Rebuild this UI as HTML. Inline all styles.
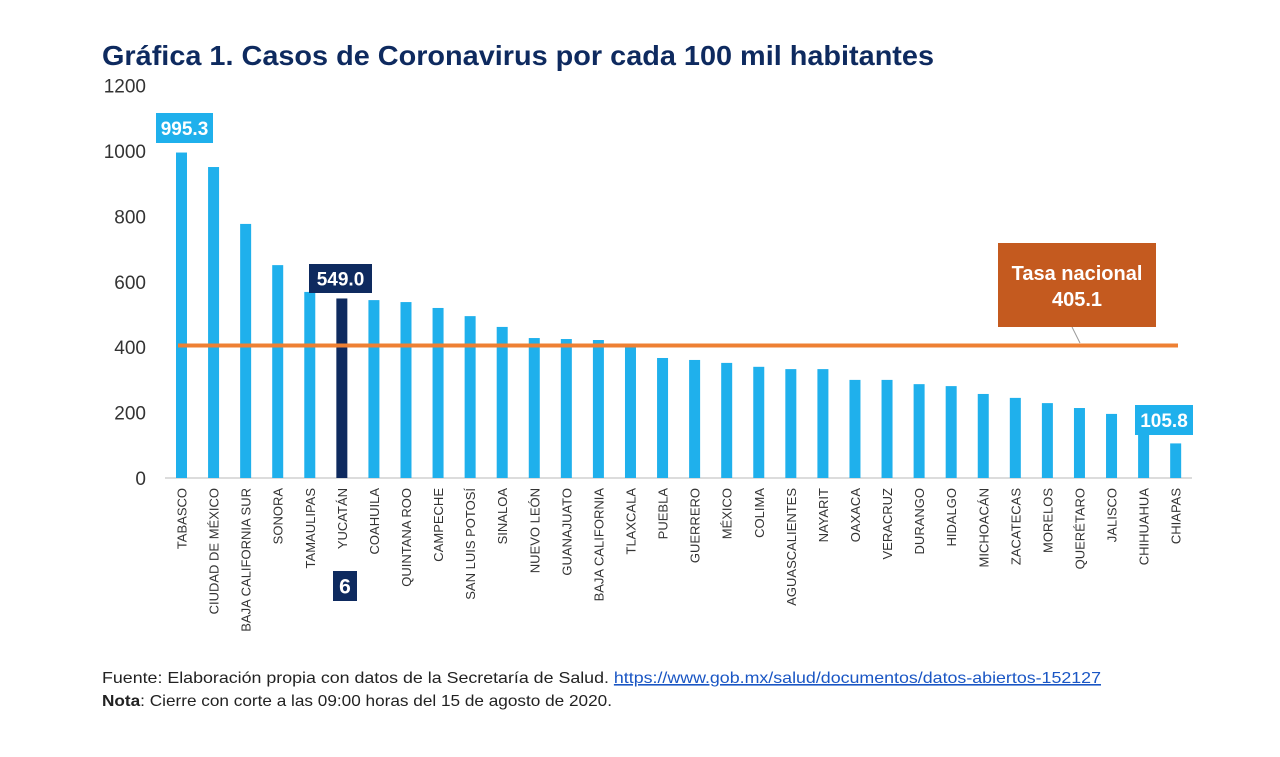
<!DOCTYPE html>
<html><head><meta charset="utf-8"><style>
body{margin:0;background:#fff;width:1280px;height:752px;overflow:hidden;font-family:"Liberation Sans",sans-serif}
</style></head><body>
<svg id="chart" width="1280" height="752" xmlns="http://www.w3.org/2000/svg">
<text x="102" y="65" font-size="28" font-weight="bold" fill="#0e2a5f" font-family="Liberation Sans, sans-serif" textLength="832" lengthAdjust="spacingAndGlyphs">Gráfica 1. Casos de Coronavirus por cada 100 mil habitantes</text>
<g id="yaxis"></g>
<g id="bars"></g>
<g id="xlabels"></g>
<text x="102" y="683" font-size="16" fill="#222" textLength="999" lengthAdjust="spacingAndGlyphs">Fuente: Elaboración propia con datos de la Secretaría de Salud. <tspan fill="#1a56c4" text-decoration="underline">https://www.gob.mx/salud/documentos/datos-abiertos-152127</tspan></text>
<text x="102" y="706" font-size="16" fill="#222" textLength="510" lengthAdjust="spacingAndGlyphs"><tspan font-weight="bold">Nota</tspan>: Cierre con corte a las 09:00 horas del 15 de agosto de 2020.</text>
</svg>
<script>
const categories=["TABASCO","CIUDAD DE MÉXICO","BAJA CALIFORNIA SUR","SONORA","TAMAULIPAS","YUCATÁN","COAHUILA","QUINTANA ROO","CAMPECHE","SAN LUIS POTOSÍ","SINALOA","NUEVO LEÓN","GUANAJUATO","BAJA CALIFORNIA","TLAXCALA","PUEBLA","GUERRERO","MÉXICO","COLIMA","AGUASCALIENTES","NAYARIT","OAXACA","VERACRUZ","DURANGO","HIDALGO","MICHOACÁN","ZACATECAS","MORELOS","QUERÉTARO","JALISCO","CHIHUAHUA","CHIAPAS"];
const values=[995.3,951,777,651,569,549.0,544,538,520,495,462,428,425,422,404,367,361,352,340,333,333,300,300,287,281,257,245,229,214,196,150,105.8];
const yTicks=[0,200,400,600,800,1000,1200];
const nationalRate=405.1;
const NS="http://www.w3.org/2000/svg";
function y(v){return 478-v*0.327;}
function x(i){return 181.5+i*32.07;}
function mk(tag,attrs,parent,txt){const e=document.createElementNS(NS,tag);for(const k in attrs)e.setAttribute(k,attrs[k]);if(txt!==undefined)e.textContent=txt;parent.appendChild(e);return e;}
const ya=document.getElementById('yaxis'),bg=document.getElementById('bars'),xl=document.getElementById('xlabels'),svg=document.getElementById('chart');
yTicks.forEach(t=>{const e=mk('text',{x:146,y:y(t)+7,'font-size':19,fill:'#333','text-anchor':'end'},ya,t);

});
const ax=mk('line',{x1:165,x2:1192,y1:478,y2:478,stroke:'#d0d0d0','stroke-width':1.5},ya);


values.forEach((v,i)=>{const r=mk('rect',{x:x(i)-5.5,y:y(v),width:11,height:478-y(v),fill:i===5?'#0e2a5f':'#1fb0ec'},bg);


const t=mk('text',{transform:`translate(${x(i)+5},488) rotate(-90)`,'font-size':13,fill:'#333','text-anchor':'end'},xl,categories[i]);

});
const nl=mk('line',{x1:178,x2:1178,y1:y(nationalRate),y2:y(nationalRate),stroke:'#ee8033','stroke-width':4},svg);


const ld=mk('line',{x1:1072,x2:1080,y1:327,y2:343,stroke:'#999','stroke-width':1},svg);


function label(name,bx,by,w,h,fill,lines,fs,ys){const g=mk('g',{},svg);


mk('rect',{x:bx,y:by,width:w,height:h,fill:fill},g);
lines.forEach((l,k)=>mk('text',{x:bx+w/2,y:ys?ys[k]:by+h/2+fs*0.36,'font-size':fs,'font-weight':'bold',fill:'#fff','text-anchor':'middle'},g,l));}
label('label-tabasco',156,113,57,30,'#1fb0ec',[values[0].toFixed(1)],19);
label('label-yucatan',309,264,63,29,'#0e2a5f',[values[5].toFixed(1)],19);
label('label-chiapas',1135,405,58,30,'#1fb0ec',[values[31].toFixed(1)],19);
label('label-national-rate',998,243,158,84,'#c45a1f',['Tasa nacional',nationalRate.toFixed(1)],20,[280,306]);
label('rank-badge',333,571,24,30,'#0e2a5f',['6'],21);
</script>
</body></html>
